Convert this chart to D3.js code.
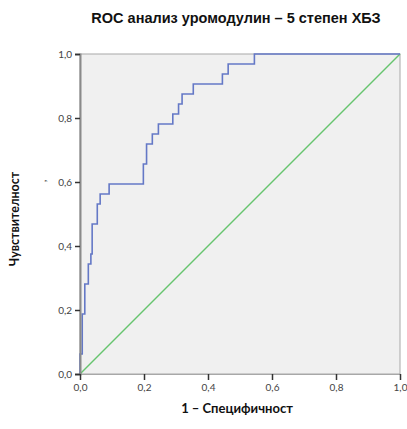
<!DOCTYPE html>
<html><head><meta charset="utf-8">
<script src="https://cdn.jsdelivr.net/npm/d3@7"></script>
<style>body{margin:0;background:#fff;}svg{display:block;}</style>
</head><body>
<script>
const title = "ROC анализ уромодулин – 5 степен ХБЗ";
const xTitle = "1 – Специфичност";
const yTitle = "Чувствителност";
const tickValues = [0, 0.2, 0.4, 0.6, 0.8, 1.0];
// ROC step vertices (1 - specificity, sensitivity)
const fpr = [0, 0.007, 0.015, 0.026, 0.034, 0.038, 0.054, 0.063, 0.091, 0.198, 0.208, 0.226, 0.245, 0.290, 0.308, 0.319, 0.354, 0.445, 0.463, 0.545, 1.0];
const tpr = [0, 0.0625, 0.1875, 0.28125, 0.34375, 0.375, 0.46875, 0.53125, 0.5625, 0.59375, 0.65625, 0.71875, 0.75, 0.78125, 0.8125, 0.84375, 0.875, 0.90625, 0.9375, 0.96875, 1.0];
const refX = [0, 1];
const refY = [0, 1];

const W = 407, H = 429;
const svg = d3.select("body").append("svg").attr("width", W).attr("height", H);
const x = d3.scaleLinear().domain([0, 1]).range([80, 400]);
const y = d3.scaleLinear().domain([0, 1]).range([374, 54]);
const fmt = d => d3.format(".1f")(d).replace(".", ",");

svg.append("rect").attr("x", x(0)).attr("y", y(1)).attr("width", x(1) - x(0)).attr("height", y(0) - y(1))
  .attr("fill", "#f0f0f0").attr("stroke", "#a8a8a8").attr("stroke-width", 1);

const line = d3.line().x(d => x(d[0])).y(d => y(d[1]));
svg.append("path").datum(refX.map((v, i) => [v, refY[i]])).attr("d", line)
  .attr("fill", "none").attr("stroke", "#66c46e").attr("stroke-width", 1.5);
svg.append("path").datum(fpr.map((v, i) => [v, tpr[i]]))
  .attr("d", d3.line().x(d => x(d[0])).y(d => y(d[1])).curve(d3.curveStepBefore))
  .attr("fill", "none").attr("stroke", "#6478c6").attr("stroke-width", 1.6);

const ya = svg.append("g").attr("transform", `translate(${x(0)},0)`)
  .call(d3.axisLeft(y).tickValues(tickValues).tickFormat(fmt).tickSize(5).tickPadding(3));
ya.select(".domain").attr("stroke", "#8a8a8a").attr("stroke-width", 2);
const xa = svg.append("g").attr("transform", `translate(0,${y(0)})`)
  .call(d3.axisBottom(x).tickValues(tickValues).tickFormat(fmt).tickSize(6).tickPadding(4));
xa.select(".domain").attr("stroke", "#a8a8a8");
svg.selectAll(".tick line").attr("stroke", "#333").attr("stroke-width", 1.5);
svg.selectAll(".tick text").attr("font-family", "Lato, 'Open Sans', sans-serif").attr("font-size", 10).attr("fill", "#444");

svg.append("text").attr("x", 236).attr("y", 23).attr("text-anchor", "middle")
  .attr("font-family", "'Liberation Sans', Arial, sans-serif").attr("font-weight", "bold").attr("font-size", 14.5)
  .attr("fill", "#111").text(title);
svg.append("text").attr("x", 237).attr("y", 413).attr("text-anchor", "middle")
  .attr("font-family", "Lato, 'Open Sans', sans-serif").attr("font-weight", "bold").attr("font-size", 13)
  .attr("fill", "#111").text(xTitle);
svg.append("text").attr("transform", "translate(19,219) rotate(-90)").attr("text-anchor", "middle")
  .attr("font-family", "Lato, 'Open Sans', sans-serif").attr("font-weight", "bold").attr("font-size", 12.5)
  .attr("fill", "#111").text(yTitle);
svg.append("text").attr("transform", "translate(46,181) rotate(-90)").attr("text-anchor", "middle")
  .attr("font-family", "Lato, sans-serif").attr("font-size", 9).attr("font-weight", "bold").attr("fill", "#444").text(",");
</script>
</body></html>
